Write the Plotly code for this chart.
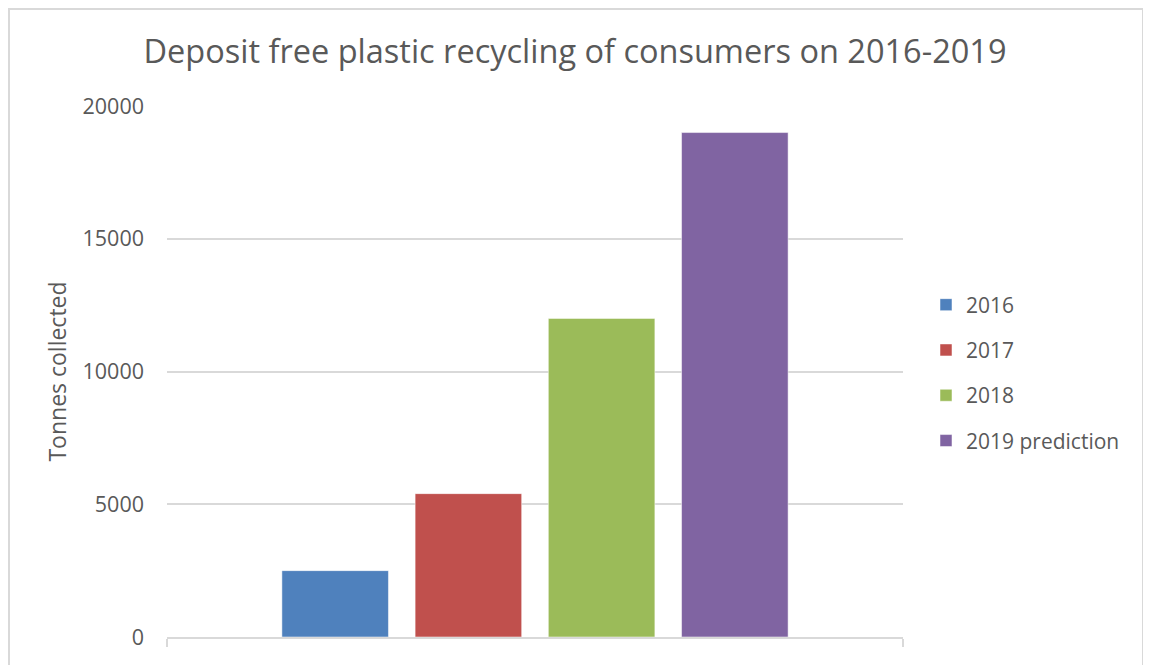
import plotly.graph_objects as go

series_names = ["2016", "2017", "2018", "2019 prediction"]
series_values = [2500, 5400, 12000, 19000]
series_colors = ["#4F81BD", "#C0504D", "#9BBB59", "#8064A2"]
category = [""]
y_ticks = [0, 5000, 10000, 15000, 20000]

title_text = "Deposit free plastic recycling of consumers on 2016-2019"
y_title = "Tonnes collected"

FONT = "Open Sans"
TXT = "#595959"
GRID = "#d9d9d9"

fig = go.Figure()
for name, val, col in zip(series_names, series_values, series_colors):
    fig.add_trace(go.Bar(
        x=category, y=[val], name=name, legendgroup=name,
        marker=dict(color=col, line=dict(color="rgba(255,255,255,0.5)", width=1)),
    ))

OFF = 8  # page body margin offset
W, H = 1151, 665
L, R, T, B = 167 - OFF, 903 - OFF, 106 - OFF, 637 - OFF
pw, ph = R - L, B - T

def px_x(x):
    return (x - OFF - L) / pw

def px_y(y):
    return (B - (y - OFF)) / ph

fig.update_layout(
    width=W, height=H,
    margin=dict(l=L, r=W - R, t=T, b=H - B, autoexpand=False),
    paper_bgcolor="white", plot_bgcolor="white",
    font=dict(family=FONT, color=TXT, size=21),
    barmode="group", bargap=0.276, bargroupgap=0.2,
    title=dict(text=title_text, x=(575 - OFF) / W, xanchor="center", xref="container",
               y=1 - (52 - OFF) / H, yref="container", yanchor="middle",
               font=dict(family=FONT, size=32.5, color=TXT)),
    showlegend=True,
    legend=dict(x=px_x(926), xanchor="left", y=px_y(373), yanchor="middle",
                traceorder="grouped", tracegroupgap=15,
                font=dict(family=FONT, size=21, color=TXT),
                itemwidth=30, bgcolor="rgba(0,0,0,0)"),
    xaxis=dict(showticklabels=False, showgrid=False, showline=True,
               linecolor=GRID, linewidth=2, ticks="outside", tickson="boundaries",
               ticklen=8, tickcolor=GRID, tickwidth=2, zeroline=False),
    yaxis=dict(range=[0, 20000], tickvals=y_ticks, ticktext=[str(v) for v in y_ticks],
               showgrid=True, gridcolor=GRID, gridwidth=1.5, zeroline=False,
               showline=False, ticks="", ticklabelstandoff=22,
               tickfont=dict(family=FONT, size=21.5, color=TXT),
               title=dict(text=y_title, standoff=9,
                          font=dict(family=FONT, size=23, color=TXT))),
    shapes=[dict(type="rect", xref="paper", yref="paper",
                 x0=px_x(9), x1=px_x(1143), y0=px_y(700), y1=px_y(9),
                 line=dict(color=GRID, width=2), fillcolor="rgba(0,0,0,0)",
                 layer="below")],
)

fig.write_html("out.html")
